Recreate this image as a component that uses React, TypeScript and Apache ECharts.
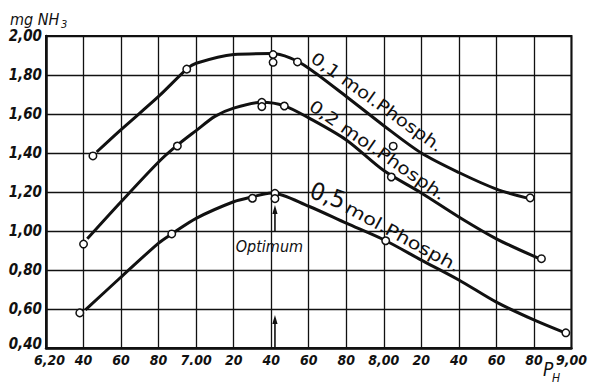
import React, { useEffect, useRef } from "react";
import * as echarts from "echarts";

// Tick labels as printed on the original figure
const xTickLabels = ["6,20", "40", "60", "80", "7.00", "20", "40", "60", "80", "8,00", "20", "40", "60", "80", "9,00"];
const yTickLabels = ["0,40", "0,60", "0,80", "1,00", "1,20", "1,40", "1,60", "1,80", "2,00"];

const seriesNames = ["0,1 mol.Phosph.", "0,2 mol.Phosph.", "0,5 mol.Phosph."];

// Drawn (smoothed) curves: [pH, mg NH3]
const curve01 = [
  [6.47, 1.405], [6.6, 1.52], [6.8, 1.69], [6.95, 1.83], [7.0, 1.86], [7.2, 1.905], [7.4, 1.91],
  [7.5, 1.888], [7.6, 1.835], [7.8, 1.69], [8.0, 1.54], [8.2, 1.4], [8.4, 1.3], [8.6, 1.215], [8.76, 1.17],
];
const curve02 = [
  [6.42, 0.96], [6.6, 1.15], [6.8, 1.354], [6.9, 1.44], [7.0, 1.515], [7.1, 1.588], [7.2, 1.63],
  [7.35, 1.66], [7.47, 1.642], [7.6, 1.58], [7.8, 1.467], [8.0, 1.31], [8.2, 1.195], [8.4, 1.072],
  [8.6, 0.96], [8.82, 0.862],
];
const curve05 = [
  [6.41, 0.595], [6.6, 0.764], [6.8, 0.938], [6.87, 0.985], [7.0, 1.065], [7.2, 1.15], [7.3, 1.175],
  [7.4, 1.195], [7.6, 1.127], [7.8, 1.04], [8.0, 0.955], [8.2, 0.851], [8.4, 0.749], [8.6, 0.635],
  [8.8, 0.544], [8.96, 0.48],
];

// Measured points (open circles)
const markers01 = [[6.45, 1.385], [6.95, 1.83], [7.41, 1.905], [7.41, 1.865], [7.54, 1.867], [8.05, 1.435], [8.78, 1.17]];
const markers02 = [[6.4, 0.933], [6.9, 1.436], [7.35, 1.66], [7.35, 1.638], [7.47, 1.641], [8.04, 1.277], [8.84, 0.858]];
const markers05 = [[6.38, 0.58], [6.87, 0.985], [7.3, 1.168], [7.42, 1.193], [7.42, 1.166], [8.01, 0.95], [8.97, 0.478]];

const optimumPH = 7.42;

const FONT = "'DejaVu Sans', 'Noto Sans', sans-serif";
const NARROW = "'Liberation Sans Narrow', 'DejaVu Sans Condensed', Roboto, 'Liberation Sans', sans-serif";
const INK = "#111";

const measureCtx = document.createElement("canvas").getContext("2d")!;
const measure = (text: string, font: string) => {
  measureCtx.font = font;
  return measureCtx.measureText(text).width || 1;
};

export default function App() {
  const ref = useRef<HTMLDivElement>(null);

  useEffect(() => {
    const chart = echarts.init(ref.current!, null, { renderer: "svg" });
    const toXY = (d: number[][]) => d.map(([p, v]) => [Math.round(p * 1000) / 10, v]);

    const lineSeries = (name: string, data: number[][]) => ({
      name,
      type: "line",
      data: toXY(data),
      smooth: 0.3,
      symbol: "none",
      lineStyle: { color: INK, width: 3 },
      z: 3,
      silent: true,
    });
    const markerSeries = (name: string, data: number[][]) => ({
      name,
      type: "scatter",
      data: toXY(data),
      symbol: "circle",
      symbolSize: 7.5,
      itemStyle: { color: "#fff", borderColor: INK, borderWidth: 1.5, opacity: 1 },
      z: 4,
      silent: true,
    });

    const labelFont = { color: INK, fontFamily: NARROW, fontStyle: "italic", fontWeight: "bold" };

    chart.setOption({
      animation: false,
      backgroundColor: "#fff",
      grid: { left: 46, top: 36, right: 15, bottom: 38, show: true, borderColor: INK, borderWidth: 2 },
      xAxis: {
        type: "value",
        min: 620,
        max: 900,
        interval: 20,
        axisLine: { show: true, lineStyle: { color: INK, width: 2.5 } },
        axisTick: { show: false },
        splitLine: { show: true, lineStyle: { color: INK, width: 1.3 } },
        axisLabel: {
          formatter: (v: number) => {
            const i = Math.round((v - 620) / 20);
            const t = xTickLabels[i] ?? "";
            return i === 0 ? `{first|${t}}` : t;
          },
          ...labelFont,
          fontSize: 14,
          margin: 5,
          rich: { first: { ...labelFont, fontSize: 14, padding: [0, 0, 0, 7] } },
        },
      },
      yAxis: {
        type: "value",
        min: 0.4,
        max: 2.0,
        interval: 0.2,
        axisLine: { show: true, lineStyle: { color: INK, width: 2.5 } },
        axisTick: { show: false },
        splitLine: { show: true, lineStyle: { color: INK, width: 1.3 } },
        axisLabel: {
          formatter: (v: number) => {
            const i = Math.round((v - 0.4) / 0.2);
            const t = yTickLabels[i] ?? "";
            return i === 0 ? `{first|${t}}` : t;
          },
          ...labelFont,
          fontSize: 15,
          margin: 4,
          rich: { first: { ...labelFont, fontSize: 15, padding: [0, 0, 9, 0] } },
        },
      },
      series: [
        lineSeries(seriesNames[0], curve01),
        lineSeries(seriesNames[1], curve02),
        lineSeries(seriesNames[2], curve05),
        markerSeries(seriesNames[0], markers01),
        markerSeries(seriesNames[1], markers02),
        markerSeries(seriesNames[2], markers05),
      ],
    });

    const px = (p: number, v: number) => chart.convertToPixel({ gridIndex: 0 }, [p * 100, v]) as number[];

    // text fitted (stretched) between two points along its mid line
    const fitText = (text: string, font: string, a: number[], b: number[]) => {
      const p0 = px(a[0], a[1]);
      const p1 = px(b[0], b[1]);
      const dx = p1[0] - p0[0];
      const dy = p1[1] - p0[1];
      return {
        type: "text",
        x: p0[0],
        y: p0[1],
        rotation: -Math.atan2(dy, dx),
        scaleX: Math.hypot(dx, dy) / measure(text, font),
        z: 10,
        style: { text, font, fill: INK, align: "left", verticalAlign: "middle" },
      };
    };

    const upTip = px(optimumPH, 1.133);
    const upBase = px(optimumPH, 0.995);
    const loTip = px(optimumPH, 0.569);
    const loBase = px(optimumPH, 0.4);

    const arrow = (tip: number[], base: number[]) => [
      { type: "line", shape: { x1: base[0], y1: base[1], x2: tip[0], y2: tip[1] + 6 }, style: { stroke: INK, lineWidth: 1.6 } },
      {
        type: "polygon",
        shape: { points: [[tip[0], tip[1]], [tip[0] - 2.6, tip[1] + 9], [tip[0] + 2.6, tip[1] + 9]] },
        style: { fill: INK },
      },
    ];

    chart.setOption({
      graphic: [
        { type: "text", x: 10, y: 11, style: { text: "mg NH", font: `italic 16px ${NARROW}`, fill: INK } },
        { type: "text", x: 61, y: 19, style: { text: "3", font: `italic 11px ${NARROW}`, fill: INK } },
        { type: "text", x: 543, y: 359, style: { text: "P", font: `italic 19px ${NARROW}`, fill: INK } },
        { type: "text", x: 552, y: 372, style: { text: "H", font: `italic 12px ${NARROW}`, fill: INK } },
        fitText(seriesNames[0], `17px ${FONT}`, [7.623, 1.897], [8.306, 1.426]),
        fitText(seriesNames[1], `17px ${FONT}`, [7.613, 1.651], [8.322, 1.179]),
        fitText("0,5", `24px ${FONT}`, [7.613, 1.215], [7.793, 1.154]),
        fitText("mol.Phosph.", `17px ${FONT}`, [7.803, 1.128], [8.401, 0.815]),
        fitText("Optimum", `italic 16px ${NARROW}`, [7.211, 0.918], [7.57, 0.918]),
        ...arrow(upTip, upBase),
        ...arrow(loTip, loBase),
      ],
    });

    return () => chart.dispose();
  }, []);

  return (
    <div
      ref={ref}
      style={{ position: "absolute", left: 0, top: 0, width: 590, height: 386, background: "#fff" }}
    />
  );
}
